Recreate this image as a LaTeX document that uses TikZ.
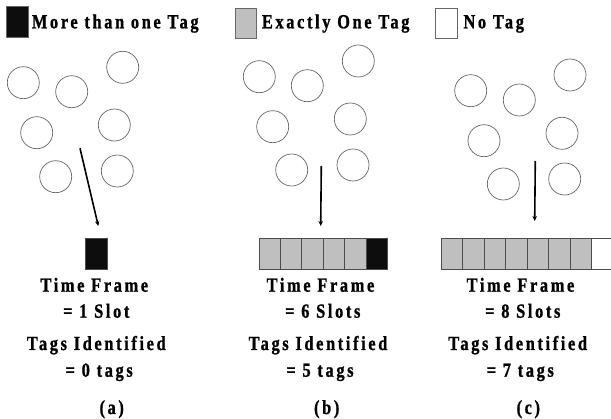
\documentclass[tikz,border=0pt]{standalone}
\usepackage{fontspec}
\usepackage{graphicx}
\usepackage{tikz}
\usetikzlibrary{arrows.meta}
\newfontfamily\lblfont{Liberation Serif}[LetterSpace=16,BoldFeatures={FakeBold=1.2}]
\newcommand{\slim}[1]{\scalebox{0.82}[1]{#1}}
\tikzset{
	tag/.style={circle,draw=black!60,line width=0.7pt,minimum size=32pt,inner sep=0pt},
	slot/.style={draw=black!70,line width=0.8pt,minimum width=21.5pt,minimum height=30.7pt,inner sep=0pt},
	key/.style={draw=black!60,line width=0.8pt,minimum width=21.5pt,minimum height=30.5pt,inner sep=0pt},
	lbl/.style={font=\lblfont\bfseries\fontsize{20}{20}\selectfont,inner sep=0pt,anchor=base},
	probe/.style={line width=1.6pt,-{Stealth[length=5pt,width=4.5pt]}}
}
\begin{document}
\begin{tikzpicture}[x=1pt,y=-1pt]
			\useasboundingbox (0,0) rectangle (611,419);
			% legend
			\node[key,fill=black!95] (keyMulti) at (17.5,22) {};
			\node[lbl,anchor=base west] (txtMulti) at (31.7,28.3) {\slim{More than one Tag}};
			\node[key,fill=black!25] (keyOne) at (245.7,23.3) {};
			\node[lbl,anchor=base west] (txtOne) at (261.7,28.3) {\slim{Exactly One Tag}};
			\node[key,fill=white] (keyNone) at (446.3,23.2) {};
			\node[lbl,anchor=base west] (txtNone) at (463.3,28.3) {\slim{No Tag}};

			% tags
			\foreach \p [count=\i] in {(23.3,82.7),(71.7,91.7),(122.7,67.3),(36.7,132.7),(114.3,125),(55.7,176.7),(117.3,171)}
				\node[tag] (tagA\i) at \p {};
			\foreach \p [count=\i] in {(259.3,76.7),(307.3,85.7),(358.3,61),(272.7,126.7),(350.3,119),(291.7,170),(353,165)}
				\node[tag] (tagB\i) at \p {};
			\foreach \p [count=\i] in {(470.7,90.7),(519.3,100),(570,75),(484,140.7),(562,133.3),(503.3,184),(564.7,179)}
				\node[tag] (tagC\i) at \p {};

			% frames
			\node[slot,fill=black!95] (slotA1) at (96.2,253.6) {};
			\foreach \k in {1,...,5}
				\node[slot,fill=black!25] (slotB\k) at ({259+21.45*(\k-0.5)},253.6) {};
			\node[slot,fill=black!95] (slotB6) at ({259+21.45*5.5},253.6) {};
			\foreach \k in {1,...,7}
				\node[slot,fill=black!25] (slotC\k) at ({441+21.5*(\k-0.5)},253.6) {};
			\node[slot,fill=white] (slotC8) at ({441+21.5*7.5},253.6) {};

			% reader arrows
			\coordinate (rdA) at (80,148.3);
			\coordinate (hitA) at (98.3,226);
			\coordinate (rdB) at (321.3,166);
			\coordinate (hitB) at (320.7,226);
			\coordinate (rdC) at (535.3,161);
			\coordinate (hitC) at (534.7,221);
			\draw[probe] (rdA) -- (hitA);
			\draw[probe] (rdB) -- (hitB);
			\draw[probe] (rdC) -- (hitC);

			% captions
			\node[lbl] (tfA) at (94.3,291.7) {\slim{Time Frame}};
			\node[lbl] (nsA) at (96.3,317.7) {\slim{= 1 Slot}};
			\node[lbl] (tiA) at (96.3,350) {\slim{Tags Identified}};
			\node[lbl] (ntA) at (99.2,376.7) {\slim{= 0 tags}};
			\node[lbl] (capA) at (111.7,414) {\slim{(a)}};

			\node[lbl] (tfB) at (320.5,291.7) {\slim{Time Frame}};
			\node[lbl] (nsB) at (322.8,317.7) {\slim{= 6 Slots}};
			\node[lbl] (tiB) at (318,350) {\slim{Tags Identified}};
			\node[lbl] (ntB) at (320,376.7) {\slim{= 5 tags}};
			\node[lbl] (capB) at (326.7,414) {\slim{(b)}};

			\node[lbl] (tfC) at (520.5,291.7) {\slim{Time Frame}};
			\node[lbl] (nsC) at (522.8,317.7) {\slim{= 8 Slots}};
			\node[lbl] (tiC) at (517.7,350) {\slim{Tags Identified}};
			\node[lbl] (ntC) at (520.3,376.7) {\slim{= 7 tags}};
			\node[lbl] (capC) at (528.3,414) {\slim{(c)}};
\end{tikzpicture}
\end{document}
